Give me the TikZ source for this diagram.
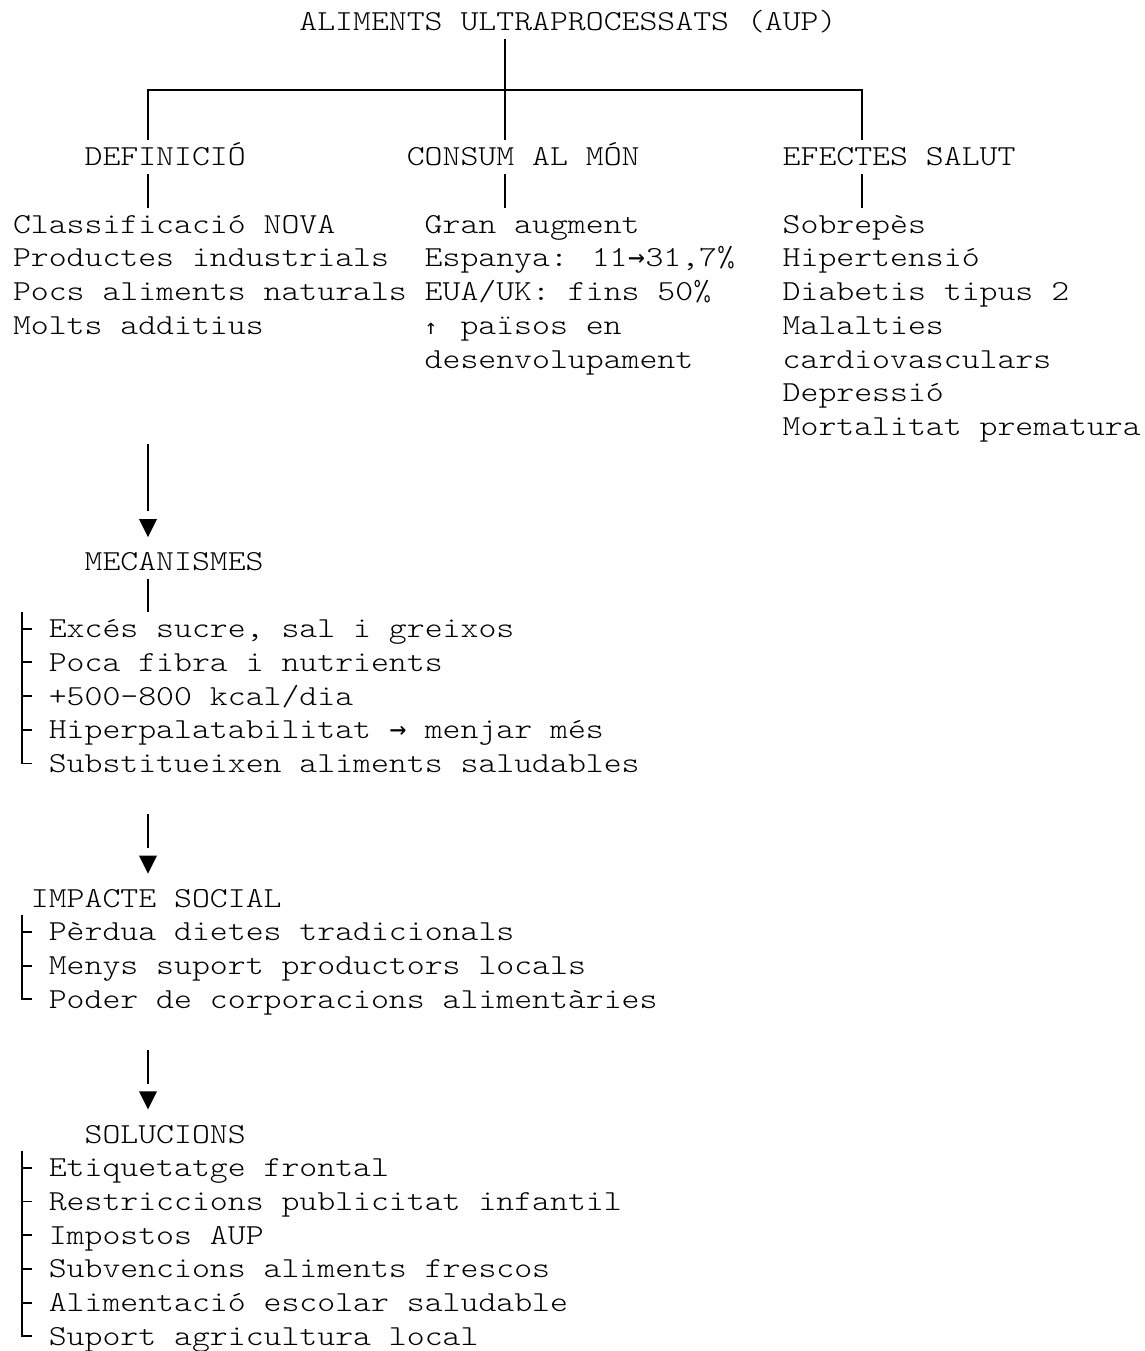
\documentclass[tikz,border=0pt]{standalone}
\usepackage{fontspec}
\newfontfamily\aupmono[Extension=.otf, FakeStretch=1.176]{lmmonolt10-regular}
\newfontfamily\aupsym{DejaVu Sans Mono}
\newcommand\aupfont{\aupmono\fontsize{29}{33.7}\selectfont}
\newcommand\aupra{\makebox[17.9pt]{\aupsym\fontsize{28}{30}\selectfont →}}
\newcommand\aupua{\makebox[17.9pt][l]{\aupsym\fontsize{21}{24}\selectfont ↑}}
\begin{document}
\begin{tikzpicture}[x=1pt,y=-1pt,
  txt/.style={anchor=base west, inner sep=0pt, outer sep=0pt, font=\aupfont, text=black},
  ln/.style={line width=1.8pt, draw=black},
  tri/.style={fill=black}]
\useasboundingbox (0,0) rectangle (1145,1351);
% baseline of row n: 31+33.7n ; column c: 13+17.9c
\node[txt] (title) at (299.4,31) {ALIMENTS ULTRAPROCESSATS (AUP)};
\node[txt] (def) at (84.6,165.8) {DEFINICIÓ};
\node[txt] (con) at (406.8,165.8) {CONSUM AL MÓN};
\node[txt] (efe) at (782.7,165.8) {EFECTES SALUT};
\foreach \t [count=\i] in {Classificació NOVA, Productes industrials, Pocs aliments naturals, Molts additius}
  \node[txt] (d\i) at (13,{31+33.7*(5+\i)}) {\t};
\foreach \t [count=\i] in {Gran augment, {Espanya: 11\aupra31,7\%}, EUA/UK: fins 50\%, \aupua{} països en, desenvolupament}
  \node[txt] (c\i) at (424.7,{31+33.7*(5+\i)}) {\t};
\foreach \t [count=\i] in {Sobrepès, Hipertensió, Diabetis tipus 2, Malalties, cardiovasculars, Depressió, Mortalitat prematura}
  \node[txt] (e\i) at (782.7,{31+33.7*(5+\i)}) {\t};
\node[txt] (mec) at (84.6,570.2) {MECANISMES};
\foreach \t [count=\i] in {{Excés sucre, sal i greixos}, Poca fibra i nutrients, +500-800 kcal/dia, Hiperpalatabilitat \aupra{} menjar més, Substitueixen aliments saludables}
  \node[txt] (m\i) at (48.8,{31+33.7*(17+\i)}) {\t};
\node[txt] (imp) at (30.9,907.2) {IMPACTE SOCIAL};
\foreach \t [count=\i] in {Pèrdua dietes tradicionals, Menys suport productors locals, Poder de corporacions alimentàries}
  \node[txt] (i\i) at (48.8,{31+33.7*(26+\i)}) {\t};
\node[txt] (sol) at (84.6,1143.1) {SOLUCIONS};
\foreach \t [count=\i] in {Etiquetatge frontal, Restriccions publicitat infantil, Impostos AUP, Subvencions aliments frescos, Alimentació escolar saludable, Suport agricultura local}
  \node[txt] (s\i) at (48.8,{31+33.7*(33+\i)}) {\t};

% tree from title
\coordinate (ttop) at (505,39);
\coordinate (tbot) at (505,140);
\coordinate (hl) at (148,90);
\coordinate (hr) at (862,90);
\coordinate (lbot) at (148,140);
\coordinate (rbot) at (862,140);
\draw[ln] (ttop) -- (tbot);
\draw[ln] (lbot) -- (hl) -- (hr) -- (rbot);
% ticks under headers
\foreach \x/\n in {148/def,505/con,862/efe}{
  \coordinate (\n t1) at (\x,174);
  \coordinate (\n t2) at (\x,207.5);
  \draw[ln] (\n t1) -- (\n t2);
}
% arrow 1 to MECANISMES
\coordinate (a1s) at (148,443.5);
\coordinate (a1e) at (148,510.5);
\draw[ln] (a1s) -- (a1e);
\fill[tri] (139,519) -- (157,519) -- (148,537) -- cycle;
% tick under MECANISMES
\coordinate (mt1) at (148,578.5);
\coordinate (mt2) at (148,612);
\draw[ln] (mt1) -- (mt2);
% bracket mecanismes
\coordinate (mb1) at (22,612);
\coordinate (mb2) at (22,{22+33.7*22});
\draw[ln] (mb1) -- (mb2) -- ++(9.5,0);
\foreach \r in {18,...,21} \draw[ln] (22,{22+33.7*\r}) -- ++(9.5,0);
% arrow 2 to IMPACTE SOCIAL
\coordinate (a2s) at (148,{22+33.7*24-16.85});
\coordinate (a2e) at (148,{22+33.7*24+16.85});
\draw[ln] (a2s) -- (a2e);
\fill[tri] (139,{22+33.7*25-9}) -- (157,{22+33.7*25-9}) -- (148,{22+33.7*25+9}) -- cycle;
% bracket impacte
\coordinate (ib1) at (22,{22+33.7*27-16.85});
\coordinate (ib2) at (22,{22+33.7*29});
\draw[ln] (ib1) -- (ib2) -- ++(9.5,0);
\foreach \r in {27,28} \draw[ln] (22,{22+33.7*\r}) -- ++(9.5,0);
% arrow 3 to SOLUCIONS
\coordinate (a3s) at (148,{22+33.7*31-16.85});
\coordinate (a3e) at (148,{22+33.7*31+16.85});
\draw[ln] (a3s) -- (a3e);
\fill[tri] (139,{22+33.7*32-9}) -- (157,{22+33.7*32-9}) -- (148,{22+33.7*32+9}) -- cycle;
% bracket solucions
\coordinate (sb1) at (22,{22+33.7*34-16.85});
\coordinate (sb2) at (22,{22+33.7*39});
\draw[ln] (sb1) -- (sb2) -- ++(9.5,0);
\foreach \r in {34,...,38} \draw[ln] (22,{22+33.7*\r}) -- ++(9.5,0);
\end{tikzpicture}
\end{document}
